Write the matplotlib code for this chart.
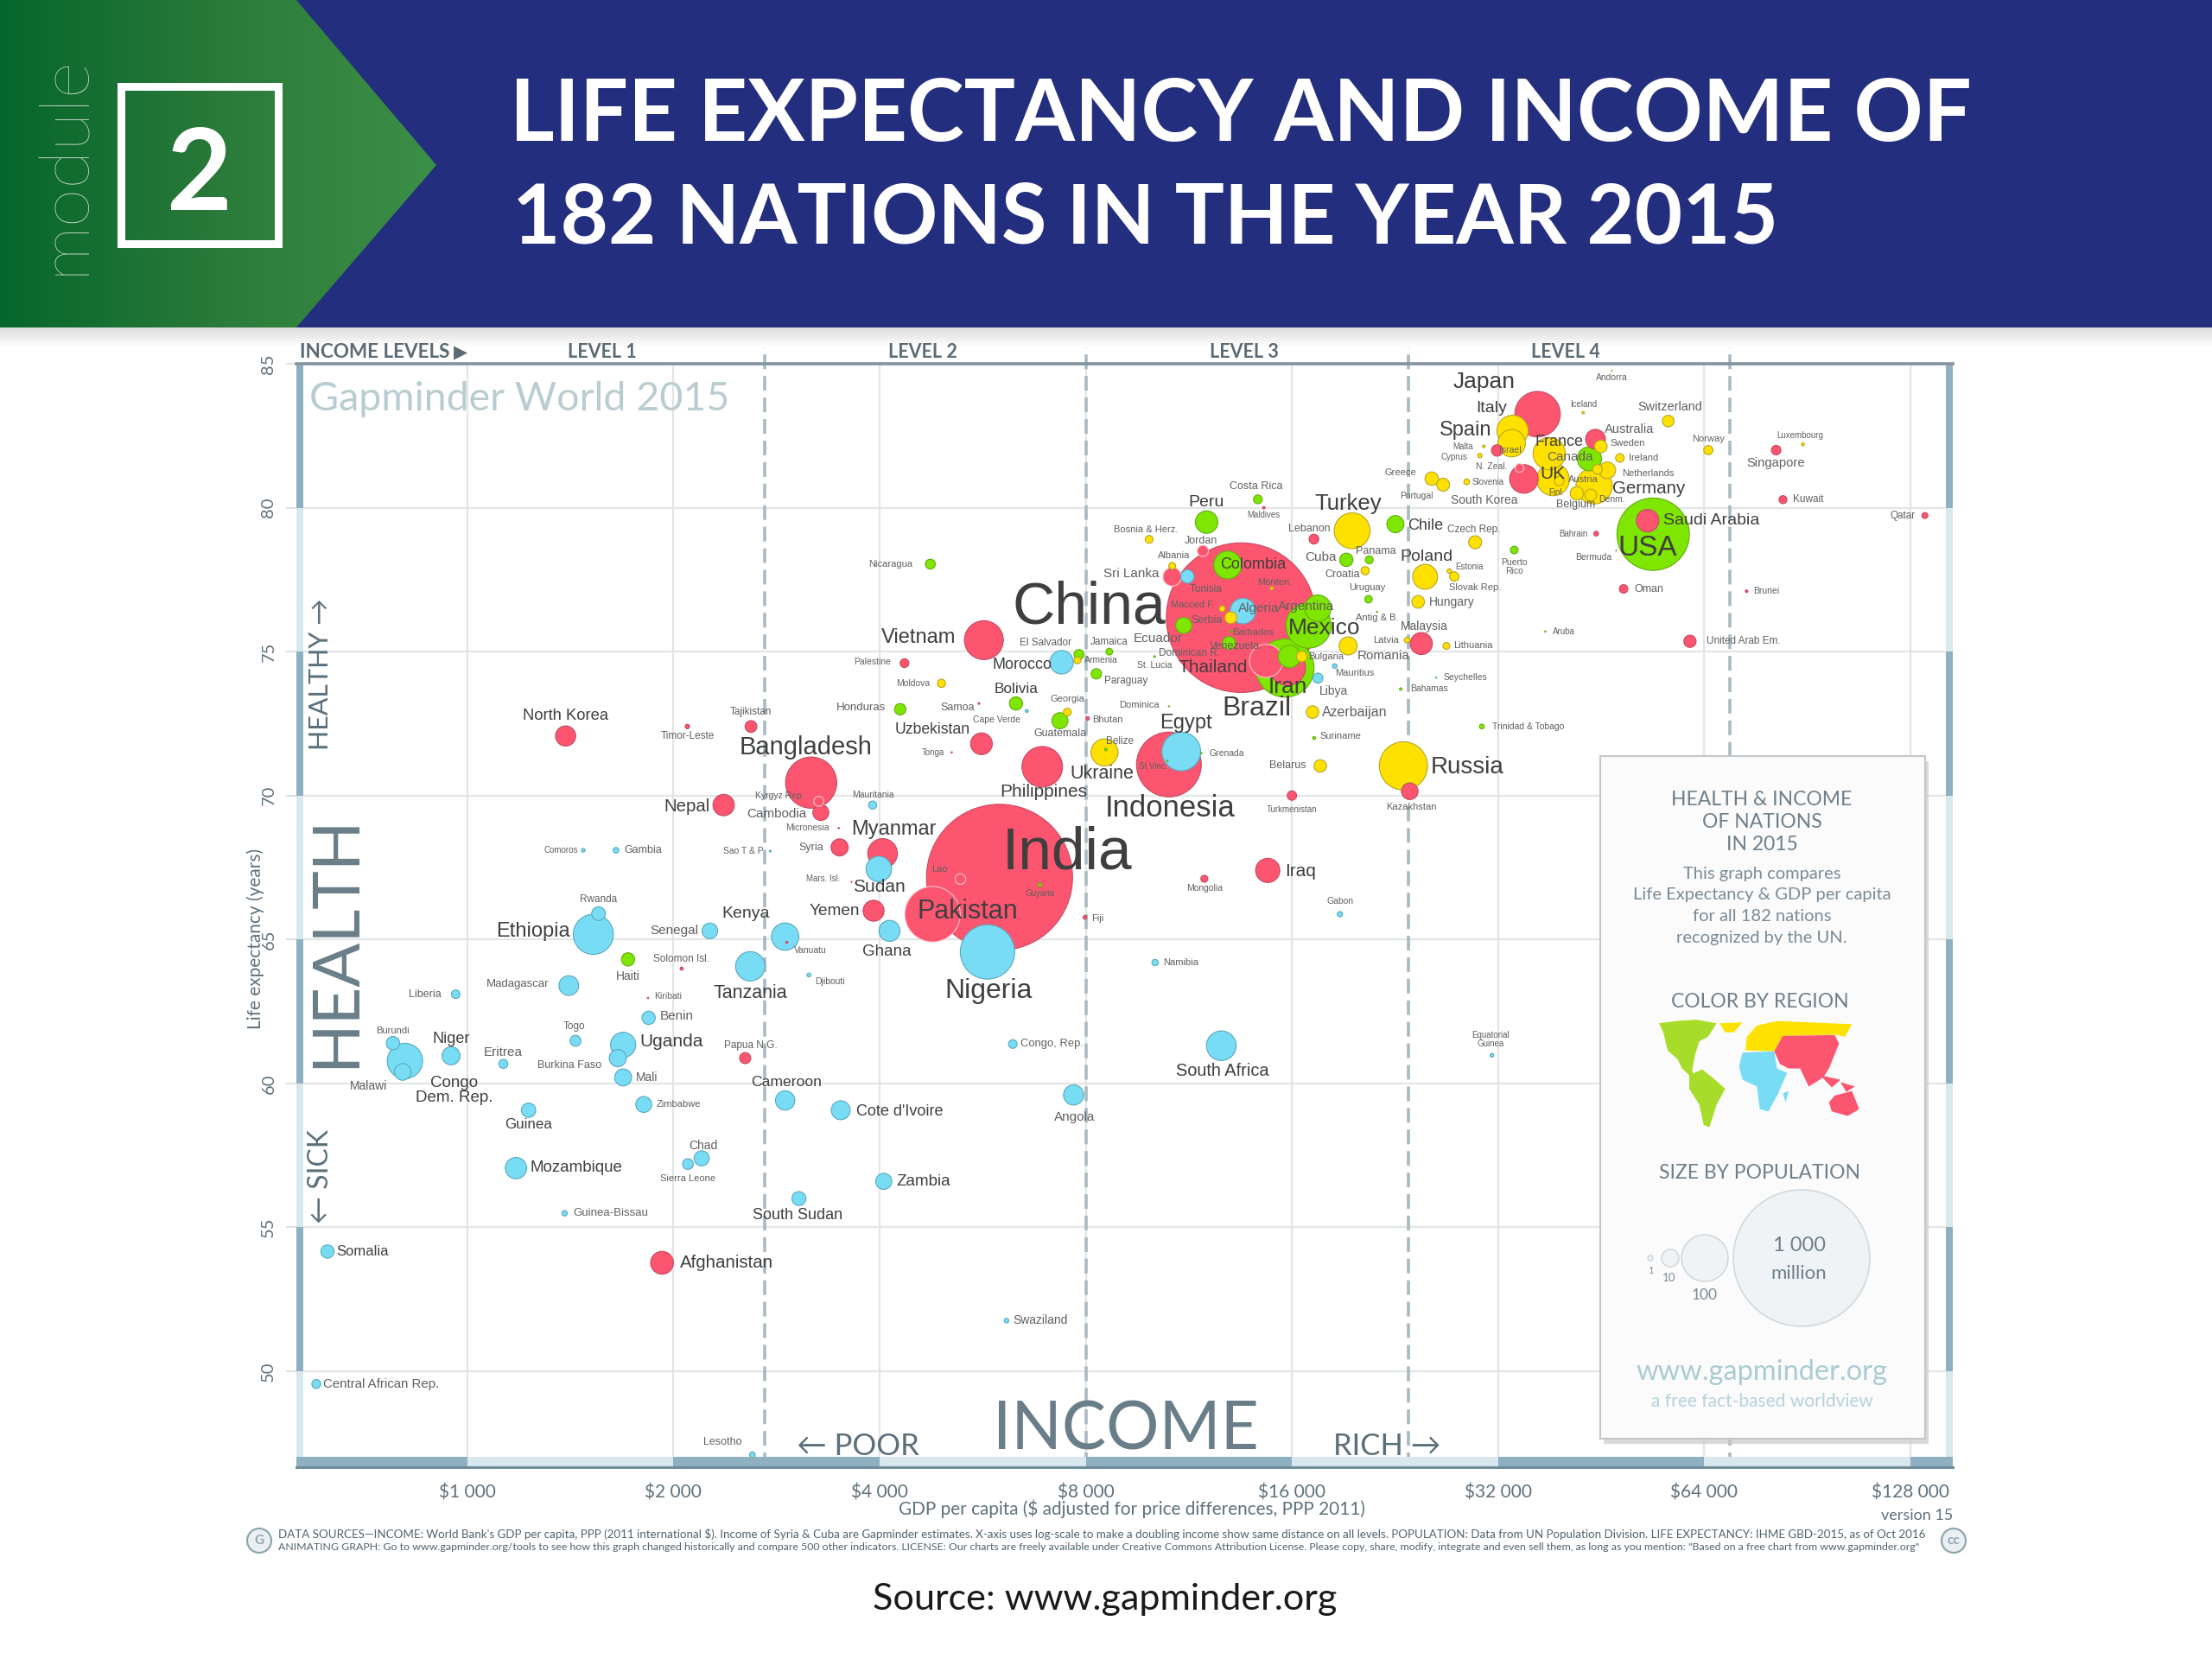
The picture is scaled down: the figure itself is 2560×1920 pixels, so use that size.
import numpy as np
import matplotlib
matplotlib.use("Agg")
import matplotlib.pyplot as plt
from matplotlib.colors import LinearSegmentedColormap
from matplotlib.patches import Polygon, Rectangle, Circle
from matplotlib.transforms import blended_transform_factory

# =====================================================================
# DATA: GDP per capita ($), life expectancy (years), population (millions)
# =====================================================================
ASIA_NAMES = ["China", "India", "Indonesia", "Pakistan", "Bangladesh", "Japan", "Philippines", "Vietnam", "Iran", "Thailand",
              "Maldives", "Lebanon", "Jordan", "Sri Lanka", "Malaysia", "Turkmenistan", "Kazakhstan", "Iraq",
              "Mongolia", "Afghanistan", "Kiribati", "Solomon Isl.", "Vanuatu", "Papua N.G.", "North Korea",
              "Timor-Leste", "Tajikistan", "Nepal", "Micronesia", "Syria", "Mars. Isl.", "Cambodia", "Kyrgyz Rep.",
              "Myanmar", "Yemen", "Lao", "Fiji", "Uzbekistan", "Tonga", "Samoa", "Bhutan", "Palestine", "Bahrain",
              "Saudi Arabia", "Oman", "Brunei", "United Arab Em.", "Kuwait", "Qatar", "Singapore", "Australia",
              "N. Zeal.", "South Korea", "Israel"]
ASIA_GDP = [13490, 5987, 10580, 4780, 3178, 36540, 6912, 5680, 15770, 14670,
            14560, 17230, 11860, 10700, 24720, 16000, 23780, 14750,
            11920, 1925, 1836, 2056, 2928, 2546, 1392,
            2096, 2596, 2368, 3487, 3497, 3640, 3283, 3260,
            4041, 3920, 5249, 7980, 5634, 5098, 5587, 8050, 4350, 44500,
            52900, 48800, 73800, 61000, 83400, 134400, 81500, 44400,
            34400, 34900, 31900]
ASIA_LIFE = [76.18, 67.16, 71.08, 65.88, 70.45, 83.25, 71.0, 75.4, 74.45, 74.68,
             80.0, 78.91, 78.5, 77.6, 75.28, 70.0, 70.15, 67.4,
             67.11, 53.77, 62.97, 63.99, 64.9, 60.88, 72.07,
             72.4, 72.4, 69.67, 68.87, 68.2, 67.0, 69.41, 69.8,
             67.99, 66.0, 67.1, 65.77, 71.8, 71.5, 73.2, 72.68, 74.6, 79.1,
             79.55, 77.18, 77.1, 75.36, 80.28, 79.73, 82.0, 82.38,
             81.38, 81.0, 81.99]
ASIA_POP = [1376, 1311, 258, 189, 161, 127, 101, 93, 79, 68,
            0.36, 5.9, 7.6, 21, 30, 5.4, 17, 36,
            3, 32, 0.11, 0.58, 0.26, 7.6, 25,
            1.2, 8.5, 28, 0.1, 18, 0.05, 15.6, 6,
            54, 27, 6.8, 0.89, 29, 0.1, 0.19, 0.77, 4.7, 1.4,
            31, 4.5, 0.42, 9.2, 3.9, 2.2, 5.6, 24,
            4.6, 50, 8]

AFRICA_NAMES = ["Nigeria", "Ethiopia", "Egypt", "Congo\nDem. Rep.", "South Africa", "Tanzania", "Kenya", "Algeria",
                "Sudan", "Uganda", "Morocco", "Ghana", "Mozambique", "Madagascar", "Cameroon", "Cote d'Ivoire",
                "Angola", "Niger", "Burkina Faso", "Mali", "Malawi", "Zambia", "Senegal", "Chad", "Zimbabwe",
                "Guinea", "South Sudan", "Rwanda", "Tunisia", "Benin", "Burundi", "Somalia", "Togo", "Sierra Leone",
                "Libya", "Congo, Rep.", "Eritrea", "Liberia", "Central African Rep.", "Mauritania", "Lesotho",
                "Namibia", "Gambia", "Gabon", "Guinea-Bissau", "Swaziland", "Mauritius", "Djibouti", "Comoros",
                "Equatorial\nGuinea", "Cape Verde", "Sao T & P", "Seychelles"]
AFRICA_GDP = [5750, 1528, 11030, 811, 12620, 2590, 2912, 13570,
              3990, 1689, 7376, 4136, 1178, 1407, 2912, 3510,
              7680, 947, 1659, 1689, 805, 4057, 2261, 2199, 1810,
              1229, 3050, 1555, 11260, 1840, 779, 625, 1439, 2100,
              17460, 6260, 1129, 962, 602, 3908, 2608,
              10100, 1649, 18800, 1387, 6130, 18480, 3154, 1477,
              31340, 6560, 2769, 25990]
AFRICA_LIFE = [64.57, 65.18, 71.53, 60.78, 61.31, 64.07, 65.1, 76.41,
               67.45, 61.34, 74.63, 65.3, 57.06, 63.4, 59.41, 59.07,
               59.6, 60.96, 60.88, 60.21, 60.4, 56.6, 65.3, 57.4, 59.27,
               59.07, 56.0, 65.9, 77.61, 62.28, 61.4, 54.16, 61.48, 57.2,
               74.08, 61.37, 60.68, 63.1, 49.56, 69.67, 47.1,
               64.2, 68.1, 65.88, 55.49, 51.76, 74.5, 63.77, 68.1,
               60.98, 72.94, 68.07, 74.1]
AFRICA_POP = [182, 99, 92, 77, 54, 53, 46, 40,
              40, 39, 34, 27, 28, 24, 23, 22,
              25, 20, 18, 17.6, 17, 16, 15, 14, 15.6,
              12.6, 12, 11.6, 11, 10.9, 11, 10.8, 7.3, 7,
              6.3, 4.6, 5, 4.5, 4.9, 4, 2.1,
              2.4, 2, 1.7, 1.8, 1.3, 1.3, 0.89, 0.79,
              0.85, 0.52, 0.19, 0.1]

AMERICAS_NAMES = ["USA", "Brazil", "Mexico", "Colombia", "Argentina", "Canada", "Peru", "Venezuela", "Chile",
                  "Ecuador", "Guatemala", "Cuba", "Haiti", "Bolivia", "Dominican R.", "Honduras", "Paraguay",
                  "El Salvador", "Nicaragua", "Costa Rica", "Panama", "Puerto\nRico", "Uruguay", "Jamaica",
                  "Trinidad & Tobago", "Guyana", "Suriname", "Bahamas", "Belize", "Barbados", "St. Lucia", "St Vinc.",
                  "Grenada", "Aruba", "Antig & B.", "Dominica", "Bermuda"]
AMERICAS_GDP = [53900, 15630, 16920, 12890, 17460, 43500, 12010, 15870, 22660,
                11120, 7335, 19210, 1717, 6327, 12950, 4287, 8290,
                7820, 4744, 14270, 20750, 33790, 20700, 8660,
                30300, 6860, 17240, 23070, 8560, 13060, 10080, 10530,
                11800, 37500, 21300, 10580, 47600]
AMERICAS_LIFE = [79.08, 74.43, 75.91, 78.01, 76.51, 81.7, 79.5, 74.83, 79.43,
                 75.91, 72.6, 78.19, 64.31, 73.2, 75.3, 73.0, 74.23,
                 74.9, 78.04, 80.29, 78.19, 78.53, 76.82, 75.0,
                 72.4, 66.9, 72.0, 73.7, 71.6, 75.7, 74.83, 71.2,
                 71.47, 75.7, 76.38, 73.1, 78.51]
AMERICAS_POP = [322, 208, 127, 48, 43, 36, 31, 31, 18,
                16, 16, 11, 10.7, 10.7, 10.5, 8, 6.6,
                6.1, 6.1, 4.8, 3.9, 3.6, 3.4, 2.8,
                1.4, 0.77, 0.54, 0.39, 0.36, 0.28, 0.18, 0.11,
                0.1, 0.1, 0.09, 0.07, 0.06]

EUROPE_NAMES = ["Russia", "Germany", "Turkey", "UK", "France", "Italy", "Spain", "Ukraine", "Poland", "Romania",
                "Netherlands", "Belgium", "Greece", "Czech Rep.", "Portugal", "Sweden", "Hungary", "Azerbaijan",
                "Belarus", "Austria", "Switzerland", "Serbia", "Bulgaria", "Denm.", "Finl.", "Slovak Rep.",
                "Norway", "Ireland", "Croatia", "Moldova", "Bosnia & Herz.", "Georgia", "Armenia", "Lithuania",
                "Albania", "Macced F.", "Slovenia", "Latvia", "Estonia", "Cyprus", "Monten.", "Luxembourg", "Malta",
                "Iceland", "Andorra"]
EUROPE_GDP = [23280, 44200, 19590, 38500, 38000, 33600, 33500, 8520, 25040, 19330,
              46200, 41700, 25600, 29630, 26600, 45200, 24460, 17150,
              17600, 43700, 56700, 13030, 16540, 44700, 39300, 27620,
              64900, 48200, 20470, 4926, 9900, 7520, 7780, 26900,
              10700, 12660, 28800, 23570, 27170, 30100, 14950, 89200, 30500,
              42600, 46900]
EUROPE_LIFE = [71.03, 80.76, 79.2, 80.98, 81.88, 82.67, 82.24, 71.5, 77.6, 75.2,
               81.3, 80.5, 81.01, 78.8, 80.8, 82.13, 76.73, 72.9,
               71.03, 80.44, 83.01, 76.18, 74.83, 81.33, 80.93, 77.61,
               82.0, 81.73, 77.81, 73.9, 78.9, 72.9, 74.7, 75.2,
               77.98, 76.49, 80.9, 75.4, 77.8, 81.81, 77.2, 82.2, 82.13,
               83.3, 84.76]
EUROPE_POP = [143, 81, 79, 65, 64, 60, 46, 45, 38, 20,
              17, 11, 11, 10.5, 10.3, 9.8, 9.8, 9.7,
              9.5, 8.5, 8.3, 8.9, 7.1, 5.7, 5.5, 5.4,
              5.2, 4.6, 4.2, 4.1, 3.8, 3.7, 3, 2.9,
              2.9, 2.1, 2.1, 2, 1.3, 1.2, 0.63, 0.57, 0.42,
              0.33, 0.07]

XTICKS = [1000, 2000, 4000, 8000, 16000, 32000, 64000, 128000]
XTICK_LABELS = ["$1 000", "$2 000", "$4 000", "$8 000", "$16 000", "$32 000", "$64 000", "$128 000"]
YTICKS = [50, 55, 60, 65, 70, 75, 80, 85]
LEVEL_EDGES = [2720, 8000, 23700, 69800]
LEVEL_NAMES = ["LEVEL 1", "LEVEL 2", "LEVEL 3", "LEVEL 4"]
PALE_RING = ["Thailand", "Kyrgyz Rep.", "Lao", "Pakistan", "Sri Lanka", "N. Zeal.", "Jordan"]

# Label place relative to the bubble (dx, dy in reference px of the 1568 wide view) and font size
LABEL_SPOTS = {
    "China": (-108, -7, 49), "India": (48, -17, 50), "Indonesia": (1, 31, 25), "Pakistan": (25, -2, 22),
    "Bangladesh": (-4, -25, 21), "Japan": (-38, -23, 19), "Philippines": (1, 18, 15), "Vietnam": (-46, -2, 17),
    "Brazil": (-20, 29, 23), "Iran": (0, 14, 19), "Thailand": (-38, 5, 15), "Mexico": (11, 2, 19),
    "Argentina": (-8, -1, 11), "Colombia": (18, 0, 13), "Venezuela": (-39, -7, 9), "Peru": (0, -14, 14),
    "Costa Rica": (-1, -9, 9), "Maldives": (0, 5, 7), "Turkey": (-3, -19, 18.5), "Chile": (21, 1, 13),
    "Lebanon": (-3, -7, 9), "Cuba": (-18, -2, 11), "Panama": (5, -6, 9), "Croatia": (-16, 3, 9),
    "Jordan": (-1, -7, 9), "Bosnia & Herz.": (-2, -7, 8), "Albania": (1, -7, 8), "Sri Lanka": (-29, -2, 11),
    "Tunisia": (13, 9, 8.5), "Morocco": (-28, 2, 13), "Algeria": (11, -2, 11), "Serbia": (-17, 2, 9),
    "Macced F.": (-21, -3, 8), "Ecuador": (-18, 9, 11), "Barbados": (15, 1, 8), "Dominican R.": (-28, 7, 8.5),
    "Monten.": (2, -4, 8), "Romania": (25, 7, 11), "Uruguay": (-1, -8, 8), "Antig & B.": (0, 4, 8),
    "Malaysia": (2, -12, 10), "Latvia": (-15, 0, 8), "Mauritius": (14, 5, 8), "Libya": (11, 9, 10),
    "Azerbaijan": (30, 0, 11.5), "Suriname": (19, -1, 8), "Belarus": (-23, 0, 9), "Turkmenistan": (0, 10, 7),
    "Kazakhstan": (1, 11, 8), "Russia": (45, 1, 20), "Iraq": (23, 1, 15), "Mongolia": (0, 7, 7.5),
    "Gabon": (0, -9, 7.5), "Namibia": (18, 0, 8), "South Africa": (1, 18, 14.4), "Equatorial\nGuinea": (-1, -11, 7),
    "Swaziland": (24, 0, 10), "Lesotho": (-21, -9, 9), "Central African Rep.": (46, 0, 10.8), "Somalia": (25, 0, 12),
    "Afghanistan": (46, 0, 14.8), "Guinea-Bissau": (33, 0, 9.5), "South Sudan": (-1, 12, 13), "Zambia": (28, 0, 13.5),
    "Sierra Leone": (0, 10, 8), "Chad": (1, -9, 10), "Mozambique": (43, 0, 13.5), "Guinea": (0, 10, 12.2),
    "Zimbabwe": (25, 0, 8), "Mali": (17, 0, 10), "Burkina Faso": (-34, 5, 9), "Uganda": (34, -2, 15),
    "Benin": (20, -1, 11), "Haiti": (0, 12, 10), "Kiribati": (14, -1, 7.5), "Solomon Isl.": (0, -7, 8.5),
    "Tanzania": (0, 19, 15.5), "Vanuatu": (17, 6, 7.5), "Kenya": (-28, -16, 14), "Djibouti": (15, 5, 7.5),
    "Papua N.G.": (4, -9, 8.5), "Cameroon": (1, -13, 12.6), "Cote d'Ivoire": (42, 1, 13), "Eritrea": (0, -8, 11),
    "Togo": (-1, -10, 8.5), "Niger": (0, -12, 13), "Burundi": (0, -9, 8), "Congo\nDem. Rep.": (35, 21, 13.5),
    "Malawi": (-24, 10, 10), "Liberia": (-22, 0, 9), "Madagascar": (-36, -1, 9.5), "Ethiopia": (-43, -2, 17),
    "Rwanda": (0, -10, 8.5), "Senegal": (-25, 0, 11), "Comoros": (-16, 0, 7), "Gambia": (19, 0, 9),
    "Sao T & P": (-19, 0, 7.5), "North Korea": (0, -14, 13.2), "Timor-Leste": (0, 7, 8.5), "Tajikistan": (0, -10, 8.5),
    "Nepal": (-26, 1, 14.7), "Micronesia": (-22, 0, 7.5), "Syria": (-20, 0, 9), "Mars. Isl.": (-20, -2, 7),
    "Cambodia": (-31, 1, 11), "Kyrgyz Rep.": (-28, -4, 7.5), "Mauritania": (0, -7, 7.5), "Myanmar": (8, -17, 17),
    "Sudan": (0, 13, 15), "Yemen": (-28, 0, 13.7), "Ghana": (-2, 15, 13.5), "Lao": (-15, -7, 8), "Guyana": (0, 6, 7),
    "Nigeria": (1, 28, 23), "Fiji": (9, 1, 8), "Congo, Rep.": (28, 0, 9.4), "Angola": (1, 16, 11),
    "Uzbekistan": (-35, -10, 12.7), "Tonga": (-13, 0, 7), "Honduras": (-28, -1, 9.5), "Samoa": (-15, 3, 9),
    "Bolivia": (0, -10, 12.4), "Cape Verde": (-21, 6, 7.5), "Georgia": (0, -9, 8), "Guatemala": (0, 9, 9),
    "Bhutan": (14, 1, 8), "Dominica": (-21, -1, 8), "Belize": (10, -6, 8.5), "Ukraine": (-2, 15, 15.5),
    "Egypt": (3, -20, 17), "St Vinc.": (-10, 4, 7), "Grenada": (18, 0, 7.5), "Moldova": (-20, 0, 7.5),
    "Palestine": (-23, -1, 7.5), "Nicaragua": (-28, 0, 8), "El Salvador": (-24, -8, 8.5), "Armenia": (17, 0, 7.5),
    "Jamaica": (0, -7, 8.5), "St. Lucia": (0, 6, 7.5), "Paraguay": (21, 5, 8.5), "Bahamas": (20, 0, 7.5),
    "Seychelles": (21, 0, 7.5), "Trinidad & Tobago": (33, 0, 7.5), "Aruba": (13, 0, 7), "Lithuania": (19, 0, 8),
    "Hungary": (24, 0, 10), "Poland": (1, -14, 14), "Slovak Rep.": (15, 8, 8), "Estonia": (14, -3, 7),
    "Puerto\nRico": (0, 12, 7.5), "Czech Rep.": (-1, -9, 8.5), "Bahrain": (-16, 0, 7), "Bermuda": (-16, 5, 7.5),
    "Saudi Arabia": (45, 0, 14), "USA": (-4, 10, 24), "Oman": (18, 0, 9), "Brunei": (14, 0, 7.5),
    "United Arab Em.": (38, 0, 8.5), "Kuwait": (18, 0, 8.5), "Qatar": (-16, 0, 8.5), "Singapore": (0, 9, 10.6),
    "Luxembourg": (-2, -6, 7), "Norway": (0, -8, 8), "Switzerland": (1, -10, 10.4), "Iceland": (0, -6, 7),
    "Andorra": (0, 5, 7.5), "Australia": (24, -7, 10.5), "Sweden": (19, -2, 8), "Canada": (-14, -1, 11),
    "Ireland": (17, 0, 8), "Netherlands": (29, 2, 8), "Denm.": (10, 21, 7.5), "Germany": (39, 2, 14.8),
    "Austria": (-5, -11, 8), "Belgium": (-1, 8, 9), "Finl.": (-2, 8, 7), "UK": (0, -4, 15), "France": (7, -8, 13),
    "N. Zeal.": (-20, -1, 7.5), "South Korea": (-28, 15, 10), "Italy": (-15, -16, 14), "Spain": (-33, -9, 17),
    "Israel": (9, 0, 7.5), "Malta": (-15, 0, 7), "Cyprus": (-18, 1, 7), "Slovenia": (15, 0, 7), "Greece": (-22, -4, 8),
    "Portugal": (-19, 8, 7.5), "Bulgaria": (17, 0, 8),
}

RED, BLUE, GREEN, YELLOW = "#FB5570", "#78DCF4", "#7EE600", "#FFE100"
RED_E, BLUE_E, GREEN_E, YELLOW_E = "#C64A60", "#5AA9BE", "#63AE10", "#B9A526"
GRAY = "#5F717B"
BODY = ["Lato", "DejaVu Sans"]
NARROW = ["Liberation Sans Narrow", "Lato"]
S = 2560 / 1568  # reference view px -> out.png px

fig = plt.figure(figsize=(25.6, 19.2), dpi=100, facecolor="white")
renderer = fig.canvas.get_renderer()


def fit_width(txt, width_px):
    # scale the font so the text runs over the wanted length
    ext = txt.get_window_extent(renderer)
    txt.set_fontsize(txt.get_fontsize() * width_px / max(ext.width, ext.height))
    return txt


# =====================================================================
# CHART
# =====================================================================
ax = fig.add_axes([343 / 2560, 1 - 1698 / 1920, (2260 - 343) / 2560, (1698 - 421) / 1920], zorder=1)
ax.set_xscale("log", base=2)
ax.set_xlim(563, 147600)
ax.set_ylim(46.67, 85)
ax.set_xticks(XTICKS)
ax.set_xticklabels(XTICK_LABELS, family=BODY, fontsize=15, color=GRAY)
ax.set_yticks(YTICKS)
ax.set_yticklabels(YTICKS, family=BODY, fontsize=14.5, color=GRAY, rotation=90, va="center")
ax.minorticks_off()
ax.tick_params(axis="x", length=0, pad=14)
ax.tick_params(axis="y", length=9, width=1.2, color="#D6DADC", pad=8)
ax.grid(True, color="#E3E5E6", lw=1.6)
ax.set_axisbelow(True)
for sp in ax.spines.values():
    sp.set_visible(False)

# alternating bands on the frame, one per tick step
bt = blended_transform_factory(ax.transAxes, ax.transData)
ylims = [46.67] + YTICKS
for i in range(len(ylims) - 1):
    col = "#D9E8EF" if i % 2 == 0 else "#8FB0C0"
    for x0 in (0, 1 - 8 / 1917):
        ax.add_patch(Rectangle((x0, ylims[i]), 8 / 1917, ylims[i + 1] - ylims[i], transform=bt,
                               color=col, lw=0, zorder=4))
bt2 = blended_transform_factory(ax.transData, ax.transAxes)
xlims = [563] + XTICKS + [147600]
for i in range(len(xlims) - 1):
    col = "#8FB0C0" if i % 2 == 0 else "#D9E8EF"
    ax.add_patch(Rectangle((xlims[i], 0), xlims[i + 1] - xlims[i], 12 / 1277, transform=bt2,
                           color=col, lw=0, zorder=4))
ax.plot([0, 1], [1, 1], transform=ax.transAxes, color="#84949C", lw=2.6, clip_on=False, zorder=4)
ax.plot([0, 1], [0, 0], transform=ax.transAxes, color="#6F8C9B", lw=2.2, clip_on=False, zorder=4)

for edge in LEVEL_EDGES:
    ax.plot([edge, edge], [46.67, 85.8], color="#A9BAC1", lw=2.6, ls=(0, (4.7, 2.2)), clip_on=False, zorder=1.5)

names = ASIA_NAMES + AFRICA_NAMES + AMERICAS_NAMES + EUROPE_NAMES
gdp = np.array(ASIA_GDP + AFRICA_GDP + AMERICAS_GDP + EUROPE_GDP, dtype=float)
life = np.array(ASIA_LIFE + AFRICA_LIFE + AMERICAS_LIFE + EUROPE_LIFE)
pop = np.array(ASIA_POP + AFRICA_POP + AMERICAS_POP + EUROPE_POP)
colors = ([RED] * len(ASIA_NAMES) + [BLUE] * len(AFRICA_NAMES)
          + [GREEN] * len(AMERICAS_NAMES) + [YELLOW] * len(EUROPE_NAMES))
edges = ([RED_E] * len(ASIA_NAMES) + [BLUE_E] * len(AFRICA_NAMES)
         + [GREEN_E] * len(AMERICAS_NAMES) + [YELLOW_E] * len(EUROPE_NAMES))
edges = ["#FFC4CD" if n in PALE_RING else e for n, e in zip(names, edges)]

order = np.argsort(-pop)
ax.scatter(gdp[order], life[order], s=11.3 * pop[order], c=[colors[i] for i in order],
           edgecolors=[edges[i] for i in order], linewidths=0.8, zorder=3, clip_on=False)

for i, name in enumerate(names):
    dx, dy, size = LABEL_SPOTS[name]
    ax.annotate(name, (gdp[i], life[i]), xytext=(dx * S, -dy * S), textcoords="offset pixels",
                ha="center", va="center", fontsize=size, family="Liberation Sans",
                color="#3F3F3F" if size >= 12 else "#606060", linespacing=1.0, zorder=5)

# =====================================================================
# OVERLAY in out.png pixels: banner, captions, info card
# =====================================================================
ov = fig.add_axes([0, 0, 1, 1], zorder=2)
ov.axis("off")

ov.add_patch(Rectangle((0, 0), 2560, 379, color="#242E7E", lw=0))
ov.imshow(np.linspace(0.86, 1, 24)[:, None], cmap="gray", vmin=0, vmax=1, extent=[0, 2560, 402, 379], aspect="auto")
green_map = LinearSegmentedColormap.from_list("g", ["#06662C", "#2A7A39", "#3C8F47"])
grad = ov.imshow(np.linspace(0, 1, 256)[None, :], cmap=green_map, extent=[0, 505, 379, 0], aspect="auto", zorder=2)
ov.set_xlim(0, 2560)
ov.set_ylim(1920, 0)
arrow = Polygon([(0, 0), (343, 0), (505, 191), (343, 379), (0, 379)], closed=True, transform=ov.transData,
                fc="none", ec="none")
ov.add_patch(arrow)
grad.set_clip_path(arrow)

ov.add_patch(Rectangle((140, 100), 182, 182, fc="none", ec="white", lw=6.5, zorder=3))
ov.text(231, 243, "2", color="white", fontsize=94, family="Lato", weight="bold", ha="center", va="baseline", zorder=4)
fit_width(ov.text(75, 191, "module", color="#C8D8CC", fontsize=50, family="Lato", weight="light",
                  rotation=90, ha="center", va="center", zorder=4), 255)
fit_width(ov.text(590, 163, "LIFE EXPECTANCY AND INCOME OF", color="white", fontsize=78, family="Lato",
                  weight="bold", ha="left", va="baseline"), 1693)
fit_width(ov.text(593, 282, "182 NATIONS IN THE YEAR 2015", color="white", fontsize=78, family="Lato",
                  weight="bold", ha="left", va="baseline"), 1467)

# chart captions
ov.text(347, 408, "INCOME LEVELS", color="#5B6B74", fontsize=16.2, family="Lato", weight="bold", ha="left", va="center")
ov.text(533, 408, "▶", color="#5B6B74", fontsize=15, family="DejaVu Sans", ha="center", va="center")
for lab, cx in zip(LEVEL_NAMES, [697, 1068, 1440, 1812]):
    ov.text(cx, 408, lab, color="#5B6B74", fontsize=15.5, family="Lato", weight="bold", ha="center", va="center")
fit_width(ov.text(358, 462, "Gapminder World 2015", color="#B9CDD1", fontsize=38, family="Lato",
                  ha="left", va="center"), 488)
fit_width(ov.text(389, 1089, "HEALTH", color="#6A7E89", fontsize=60, family=NARROW, rotation=90,
                  ha="center", va="center"), 294)
fit_width(ov.text(1303, 1656, "INCOME", color="#6A7E89", fontsize=60, family=NARROW,
                  ha="center", va="center"), 308)
ov.text(371, 780, "HEALTHY →", color="#5B6F7A", fontsize=22, family=BODY, rotation=90, ha="center", va="center")
ov.text(371, 1362, "← SICK", color="#5B6F7A", fontsize=23, family=BODY, rotation=90, ha="center", va="center")
ov.text(993, 1674, "← POOR", color="#5B6F7A", fontsize=25, family=BODY, ha="center", va="center")
ov.text(1605, 1674, "RICH →", color="#5B6F7A", fontsize=25, family=BODY, ha="center", va="center")
fit_width(ov.text(296, 1086, "Life expectancy (years)", color=GRAY, fontsize=14, family=BODY, rotation=90,
                  ha="center", va="center"), 210)
fit_width(ov.text(1310, 1746, "GDP per capita ($ adjusted for price differences, PPP 2011)", color=GRAY,
                  fontsize=14, family=BODY, ha="center", va="center"), 542)
ov.text(2260, 1754, "version 15", color=GRAY, fontsize=13, family=BODY, ha="right", va="center")
fit_width(ov.text(322, 1775, "DATA SOURCES—INCOME: World Bank's GDP per capita, PPP (2011 international $). Income of "
                  "Syria & Cuba are Gapminder estimates. X-axis uses log-scale to make a doubling income show same "
                  "distance on all levels. POPULATION: Data from UN Population Division. LIFE EXPECTANCY: IHME "
                  "GBD-2015, as of Oct 2016", color="#50626C", fontsize=9, family=BODY, ha="left", va="center"), 1918)
fit_width(ov.text(322, 1790, "ANIMATING GRAPH: Go to www.gapminder.org/tools to see how this graph changed "
                  "historically and compare 500 other indicators. LICENSE: Our charts are freely available under "
                  "Creative Commons Attribution License. Please copy, share, modify, integrate and even sell them, "
                  "as long as you mention: \"Based on a free chart from www.gapminder.org\"", color="#50626C",
                  fontsize=9, family=BODY, ha="left", va="center"), 1918)
for cx, mark in ((300, "G"), (2261, "cc")):
    ov.add_patch(Circle((cx, 1783), 14, fc="#EAF0F2", ec="#8FA6AE", lw=1.6))
    ov.text(cx, 1783, mark, color="#8FA6AE", fontsize=11, family=BODY, weight="bold", ha="center", va="center")
fit_width(ov.text(1279, 1851, "Source: www.gapminder.org", color="#1A1A1A", fontsize=26, family="Lato",
                  ha="center", va="center"), 537)

# info card
ov.add_patch(Rectangle((1856, 881), 376, 790, fc="#C9C9C9", lw=0, alpha=0.7))
ov.add_patch(Rectangle((1852, 875), 376, 790, fc="#FBFBFC", ec="#C4C8CA", lw=1.5))
CARD_X = 2039
for line, yy in (("HEALTH & INCOME", 926), ("OF NATIONS", 951.5), ("IN 2015", 978)):
    ov.text(CARD_X, yy, line, color="#6E7F8A", fontsize=16.5, family=BODY, ha="center", va="center")
for line, yy in (("This graph compares", 1012), ("Life Expectancy & GDP per capita", 1036),
                 ("for all 182 nations", 1061), ("recognized by the UN.", 1086)):
    ov.text(CARD_X, yy, line, color="#7B8B95", fontsize=14.5, family=BODY, ha="center", va="center")
ov.text(CARD_X - 2, 1159, "COLOR BY REGION", color="#6E7F8A", fontsize=16.5, family=BODY, ha="center", va="center")
ov.text(CARD_X - 3, 1357, "SIZE BY POPULATION", color="#6E7F8A", fontsize=16.5, family=BODY, ha="center", va="center")

# small world map, shapes in (zoomed view) units
MAP_SHAPES = [
    ("#A8DC2A", [(270, 620), (330, 615), (400, 612), (470, 620), (440, 650), (410, 660), (395, 690), (385, 725),
                 (400, 745), (375, 735), (350, 720), (335, 700), (300, 680), (285, 640)]),
    ("#A8DC2A", [(375, 735), (420, 722), (465, 745), (500, 765), (470, 800), (445, 850), (425, 845), (410, 800),
                 (375, 765)]),
    ("#FFE100", [(480, 620), (560, 618), (530, 640), (500, 640)]),
    ("#FFE100", [(610, 625), (680, 615), (940, 622), (915, 650), (880, 645), (700, 648), (670, 682), (570, 680),
                 (575, 650)]),
    ("#78DCF4", [(560, 685), (670, 682), (680, 720), (715, 730), (680, 780), (650, 815), (620, 810), (610, 760),
                 (560, 745), (548, 715)]),
    ("#78DCF4", [(700, 775), (720, 770), (710, 795)]),
    ("#FB5570", [(670, 682), (700, 648), (880, 646), (895, 665), (860, 720), (840, 740), (790, 760), (760, 720),
                 (720, 720), (690, 710)]),
    ("#FB5570", [(830, 735), (900, 745), (870, 762)]),
    ("#FB5570", [(900, 750), (950, 760), (920, 772)]),
    ("#FB5570", [(860, 795), (880, 780), (940, 770), (965, 810), (925, 825), (870, 815)]),
]
for col, pts in MAP_SHAPES:
    ov.add_patch(Polygon([(1830 + px / 3, 860 + py / 1.912) for px, py in pts], closed=True, fc=col, lw=0))

for cx, rad in ((1910, 3), (1933, 10), (1973, 27), (2085, 79)):
    ov.add_patch(Circle((cx, 1456), rad, fc="#EFF3F6", ec="#D2D9DC", lw=1.2))
ov.text(2082, 1441, "1 000", color="#6E7F8A", fontsize=17, family=BODY, ha="center", va="center")
ov.text(2082, 1474, "million", color="#6E7F8A", fontsize=16, family=BODY, ha="center", va="center")
ov.text(1973, 1499, "100", color="#7B8B95", fontsize=12.5, family=BODY, ha="center", va="center")
ov.text(1932, 1479, "10", color="#7B8B95", fontsize=9.5, family=BODY, ha="center", va="center")
ov.text(1910, 1470, "1", color="#7B8B95", fontsize=8, family=BODY, ha="center", va="center")
fit_width(ov.text(CARD_X, 1588, "www.gapminder.org", color="#A9CCD3", fontsize=22, family=BODY,
                  ha="center", va="center"), 292)
fit_width(ov.text(CARD_X, 1622, "a free fact-based worldview", color="#B5D3D9", fontsize=13, family=BODY,
                  ha="center", va="center"), 257)

fig.savefig("out.png", dpi=100)
